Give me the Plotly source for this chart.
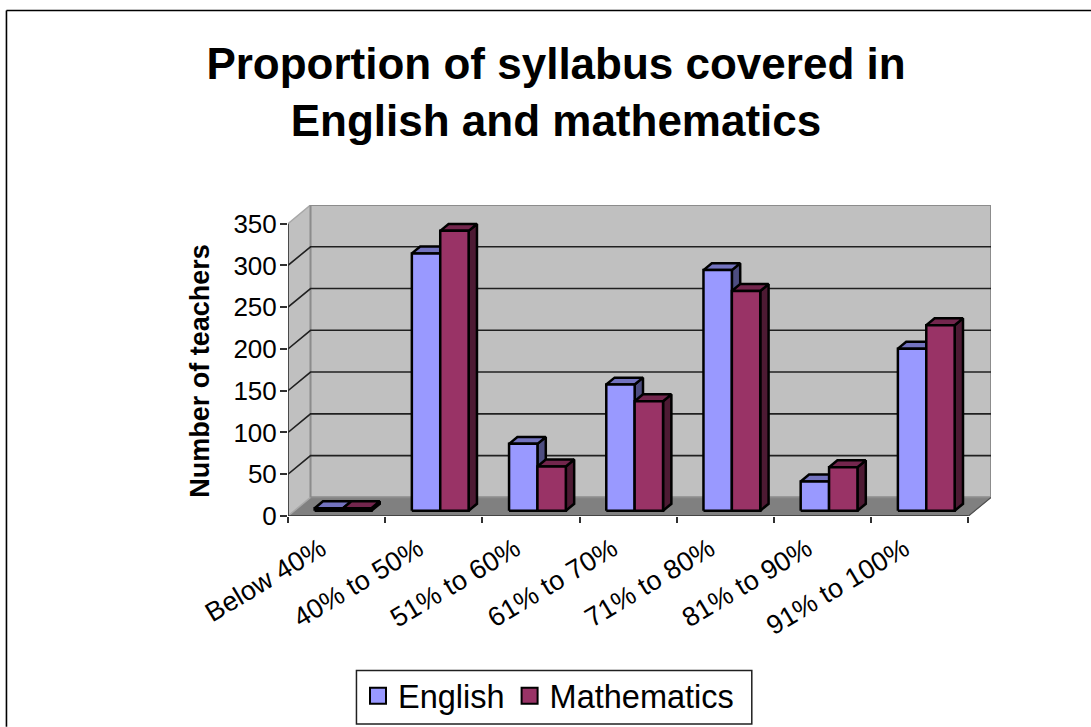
import plotly.graph_objects as go

# Chart content
CHART_TITLE = "Proportion of syllabus covered in<br>English and mathematics"
Y_TITLE = "Number of teachers"
categories = ["Below 40%", "40% to 50%", "51% to 60%", "61% to 70%",
              "71% to 80%", "81% to 90%", "91% to 100%"]
english = [3, 308, 80, 151, 288, 35, 194]
mathematics = [3, 335, 53, 131, 263, 52, 222]
y_ticks = [0, 50, 100, 150, 200, 250, 300, 350]

# Pseudo-3D geometry, in axis units
Y_MAX = 350
DEPTH_X = 0.232      # shift of the back wall along x, per full depth
DEPTH_Y = 22.3       # shift of the back wall along y, per full depth
BAR_NEAR, BAR_FAR = 0.285, 0.655   # depth band occupied by the bars
BAR_WIDTH = 0.292
BAR_GAP = 0.208
N = len(categories)

# Page layout in pixels
WIDTH, HEIGHT = 1091, 727
PLOT_LEFT, PLOT_RIGHT = 288.3, 990.7
PLOT_TOP, PLOT_BOTTOM = 204.5, 516.0

FONT = "Liberation Sans, Arial, sans-serif"
AXIS_COLOR = "#303030"
GRID_COLOR = "#202020"


def paper_x(px):
    return (px - PLOT_LEFT) / (PLOT_RIGHT - PLOT_LEFT)


def paper_y(px):
    return (PLOT_BOTTOM - px) / (PLOT_BOTTOM - PLOT_TOP)


def project(x, value, depth):
    """Map a (category position, value, depth) point on to the flat axes."""
    return x + depth * DEPTH_X, value + depth * DEPTH_Y


def polygons(quads):
    """Join closed polygons into one None-separated x/y pair."""
    xs, ys = [], []
    for quad in quads:
        pts = quad + [quad[0]]
        xs += [p[0] for p in pts] + [None]
        ys += [p[1] for p in pts] + [None]
    return xs, ys


def face_trace(quads, fill, line_color=None, width=2.5):
    xs, ys = polygons(quads)
    return go.Scatter(
        x=xs, y=ys, mode="lines", fill="toself", fillcolor=fill,
        line=dict(color=line_color or fill, width=width, simplify=False),
        showlegend=False, hoverinfo="skip", cliponaxis=False,
    )


def line_trace(xs, ys, color, width):
    return go.Scatter(
        x=xs, y=ys, mode="lines", line=dict(color=color, width=width),
        showlegend=False, hoverinfo="skip", cliponaxis=False,
    )


def bar_faces(values, slot, front, top, side):
    """Return the side, top and front face traces of one series."""
    sides, tops, fronts = [], [], []
    for i, v in enumerate(values):
        x0 = i + BAR_GAP + slot * BAR_WIDTH
        x1 = x0 + BAR_WIDTH
        fronts.append([project(x0, 0, BAR_NEAR), project(x1, 0, BAR_NEAR),
                       project(x1, v, BAR_NEAR), project(x0, v, BAR_NEAR)])
        tops.append([project(x0, v, BAR_NEAR), project(x1, v, BAR_NEAR),
                     project(x1, v, BAR_FAR), project(x0, v, BAR_FAR)])
        sides.append([project(x1, 0, BAR_NEAR), project(x1, 0, BAR_FAR),
                      project(x1, v, BAR_FAR), project(x1, v, BAR_NEAR)])
    return [face_trace(sides, side, "#000000"),
            face_trace(tops, top, "#000000"),
            face_trace(fronts, front, "#000000")]


fig = go.Figure()

# Floor, left wall and back wall
fig.add_trace(face_trace([[project(0, 0, 0), project(N, 0, 0),
                           project(N, 0, 1), project(0, 0, 1)]], "#808080", width=1))
fig.add_trace(face_trace([[project(0, 0, 0), project(0, 0, 1),
                           project(0, Y_MAX, 1), project(0, Y_MAX, 0)]],
                         "#C0C0C0", "#A8A8A8", 1.5))
fig.add_trace(face_trace([[project(0, 0, 1), project(N, 0, 1),
                           project(N, Y_MAX, 1), project(0, Y_MAX, 1)]],
                         "#C0C0C0", "#8C8C8C", 2))

# Gridlines: along the back wall, then down the left wall to the axis
grid_x, grid_y = [], []
for t in y_ticks[1:-1]:
    a, b, c = project(0, t, 0), project(0, t, 1), project(N, t, 1)
    grid_x += [a[0], b[0], c[0], None]
    grid_y += [a[1], b[1], c[1], None]
fig.add_trace(line_trace(grid_x, grid_y, GRID_COLOR, 1.6))

# Front axis lines
fig.add_trace(line_trace([0, 0], [0, Y_MAX], AXIS_COLOR, 1.6))
fig.add_trace(line_trace([0, N], [0, 0], AXIS_COLOR, 1.6))
floor_edge = [project(N, 0, 0), project(N, 0, 1)]
fig.add_trace(line_trace([p[0] for p in floor_edge], [p[1] for p in floor_edge],
                         "#505050", 1.2))

# Bars
for tr in bar_faces(english, 0, "#9999FF", "#7373BF", "#4D4D80"):
    fig.add_trace(tr)
for tr in bar_faces(mathematics, 1, "#993366", "#73264D", "#4D1A33"):
    fig.add_trace(tr)

# Legend entries
for name, color in (("English", "#9999FF"), ("Mathematics", "#993366")):
    fig.add_trace(go.Scatter(
        x=[None], y=[None], mode="markers", name=name,
        marker=dict(symbol="square", size=16, color=color,
                    line=dict(color="#000000", width=2)),
    ))

# Overlay axis carrying the tick marks between categories
fig.add_trace(go.Scatter(x=[None], y=[None], xaxis="x2", yaxis="y",
                         showlegend=False, hoverinfo="skip"))

fig.update_layout(
    width=WIDTH, height=HEIGHT,
    margin=dict(l=PLOT_LEFT, r=WIDTH - PLOT_RIGHT, t=PLOT_TOP,
                b=HEIGHT - PLOT_BOTTOM),
    paper_bgcolor="#FFFFFF", plot_bgcolor="rgba(0,0,0,0)",
    font=dict(family=FONT, color="#000000"),
    title=dict(text=CHART_TITLE, xref="container", x=556 / WIDTH,
               xanchor="center", yref="container", y=1 - 79 / HEIGHT,
               yanchor="top",
               font=dict(size=44, family=FONT, color="#000000", weight="bold")),
    xaxis=dict(
        range=[0, N + DEPTH_X], tickmode="array",
        tickvals=[i + 0.34 for i in range(N)], ticktext=categories,
        tickangle=-31, ticks="", ticklabelstandoff=11,
        showgrid=False, zeroline=False, showline=False,
        tickfont=dict(size=27, family=FONT, color="#000000"),
        automargin=False,
    ),
    xaxis2=dict(
        range=[0, N + DEPTH_X], overlaying="x", anchor="y", side="bottom",
        tickmode="array", tickvals=list(range(N + 1)), showticklabels=False,
        ticks="outside", ticklen=6, tickwidth=1.5, tickcolor=AXIS_COLOR,
        showgrid=False, zeroline=False, showline=False,
    ),
    yaxis=dict(
        range=[0, Y_MAX + DEPTH_Y], tickmode="array", tickvals=y_ticks,
        ticks="outside", ticklen=7, tickwidth=1.5, tickcolor=AXIS_COLOR,
        ticklabelstandoff=-2,
        showgrid=False, zeroline=False, showline=False,
        tickfont=dict(size=26, family=FONT, color="#000000"),
        automargin=False,
    ),
    annotations=[dict(
        text=Y_TITLE, xref="paper", yref="paper", x=paper_x(201), y=paper_y(371),
        textangle=-90, showarrow=False, xanchor="center", yanchor="middle",
        font=dict(size=27, family=FONT, color="#000000", weight="bold"),
    )],
    showlegend=True,
    legend=dict(
        orientation="h", xref="container", yref="container",
        x=358 / WIDTH, xanchor="left",
        y=1 - 696 / HEIGHT, yanchor="middle",
        bgcolor="rgba(0,0,0,0)", borderwidth=0,
        font=dict(size=32.5, family=FONT, color="#000000"),
        itemsizing="trace", itemwidth=30,
    ),
    shapes=[
        # Outer chart frame: top and left edges
        dict(type="line", xref="paper", yref="paper", layer="below",
             x0=paper_x(7), x1=paper_x(WIDTH), y0=paper_y(9.7), y1=paper_y(9.7),
             line=dict(color="#000000", width=1.6)),
        dict(type="line", xref="paper", yref="paper", layer="below",
             x0=paper_x(7), x1=paper_x(7), y0=paper_y(9.7), y1=paper_y(HEIGHT),
             line=dict(color="#000000", width=1.6)),
        # Legend box
        dict(type="rect", xref="paper", yref="paper", layer="below",
             x0=paper_x(356.7), x1=paper_x(751.7),
             y0=paper_y(724.3), y1=paper_y(670.7),
             fillcolor="#FFFFFF", line=dict(color="#202020", width=1.5)),
    ],
)

fig.write_html("out.html")
